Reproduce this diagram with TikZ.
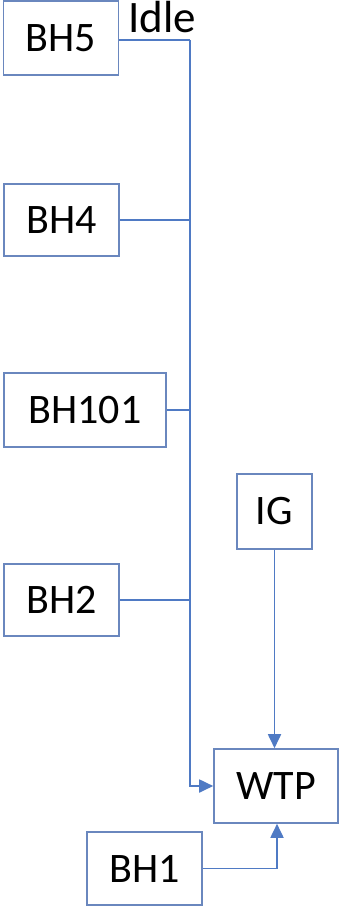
\documentclass[tikz,border=0pt]{standalone}
\usepackage{fontspec}
\setmainfont{Carlito}
\usetikzlibrary{arrows.meta}
\definecolor{boxc}{HTML}{6A87BE}
\definecolor{linec}{HTML}{4F7AC4}
\begin{document}
\begin{tikzpicture}[x=1pt,y=-1pt,
  bx/.style={draw=boxc,line width=1.6pt,rectangle,inner sep=0pt,font=\fontsize{42}{50}\selectfont,text=black},
  ln/.style={draw=linec,line width=1.8pt},
  arr/.style={ln,-{Triangle[length=14pt,width=13pt]}}]
\useasboundingbox (0,0) rectangle (341,907);
\fill[white] (0,0) rectangle (341,907);
\node[bx,minimum width=115pt,minimum height=74pt] (bh5) at (61,38) {BH5};
\node[bx,minimum width=115pt,minimum height=72pt] (bh4) at (61.5,220) {BH4};
\node[bx,minimum width=162pt,minimum height=74pt] (bh101) at (85,410) {BH101};
\node[bx,minimum width=115pt,minimum height=72pt] (bh2) at (61.5,600) {BH2};
\node[bx,minimum width=75pt,minimum height=75pt] (ig) at (274.5,511.5) {IG};
\node[bx,minimum width=124pt,minimum height=74pt] (wtp) at (276,786) {WTP};
\node[bx,minimum width=115pt,minimum height=73pt] (bh1) at (144.5,868.5) {BH1};
\node[anchor=base,inner sep=0pt,font=\fontsize{45}{52}\selectfont] (idle) at (162,33) {Idle};
\coordinate (top) at (190,40);
\draw[ln] (bh5.east |- top) -- (top);
\draw[arr] (top) |- (wtp.west);
\draw[ln] (bh4.east) -- (bh4.east -| top);
\draw[ln] (bh101.east) -- (bh101.east -| top);
\draw[ln] (bh2.east) -- (bh2.east -| top);
\draw[arr] (ig.south) -- (ig.south |- wtp.north);
\draw[arr] (bh1.east) -| ([xshift=1pt]wtp.south);
\end{tikzpicture}
\end{document}
